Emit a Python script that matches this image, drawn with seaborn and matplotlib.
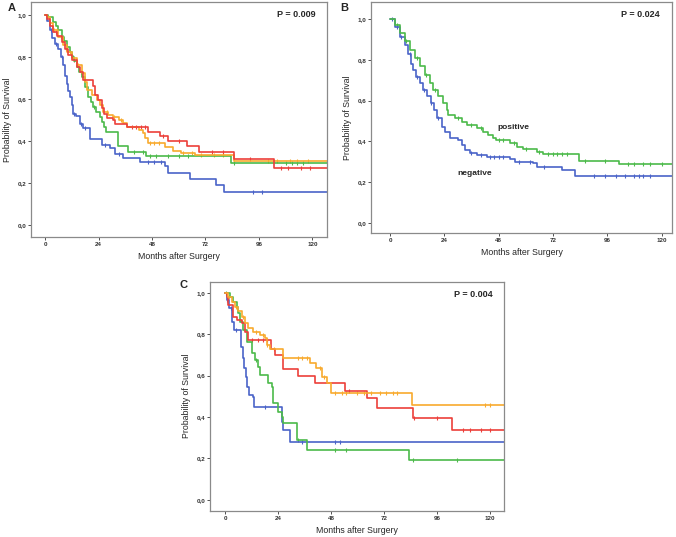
import numpy as np
import pandas as pd
import seaborn as sns
import matplotlib.pyplot as plt

# ---- data ----
# panel A: four groups
a_blue_t = [0, 1, 2, 3, 4.5, 6, 7, 8, 9, 9.7, 10.5, 11.2, 12, 12.7, 14, 15.7, 17.2, 20.2, 25.4, 29.2, 31.4, 35.2, 42.6, 53.9, 55.4, 65, 76.7, 80.3]
a_blue_s = [1.0, 0.97, 0.93, 0.89, 0.86, 0.84, 0.80, 0.76, 0.71, 0.67, 0.64, 0.61, 0.57, 0.53, 0.52, 0.48, 0.46, 0.41, 0.38, 0.365, 0.34, 0.32, 0.30, 0.28, 0.25, 0.22, 0.19, 0.155]
a_blue_c = [2.5, 5, 7.5, 13, 16, 18, 27, 33, 46, 49, 52, 93.5, 97.3]

a_green_t = [0, 1.5, 3.7, 5, 6, 7.5, 8.5, 9.7, 11, 12, 13, 14.2, 15.3, 16.5, 18, 19.4, 20.5, 21.7, 23, 24.7, 25.5, 26.5, 27.4, 32.9, 37.4, 45.2, 83.3]
a_green_s = [1.0, 0.99, 0.968, 0.95, 0.93, 0.897, 0.875, 0.85, 0.825, 0.80, 0.78, 0.754, 0.73, 0.706, 0.659, 0.611, 0.585, 0.563, 0.54, 0.516, 0.49, 0.465, 0.444, 0.378, 0.349, 0.33, 0.297]
a_green_c = [8, 12.5, 22, 40, 44, 47, 50, 55, 60, 64, 85, 108, 111, 113, 116]

a_red_t = [0, 0.75, 2.2, 3.7, 5.2, 7.5, 9, 10.5, 12, 14.2, 15.7, 17.2, 21.7, 22.4, 23.9, 25.4, 26.5, 27.7, 30.7, 31.4, 37, 46.4, 51.6, 55.4, 63.6, 69.3, 84.8, 102.9]
a_red_s = [1.0, 0.98, 0.95, 0.92, 0.90, 0.87, 0.84, 0.81, 0.786, 0.754, 0.73, 0.69, 0.66, 0.62, 0.595, 0.555, 0.53, 0.51, 0.50, 0.48, 0.465, 0.444, 0.424, 0.402, 0.378, 0.348, 0.312, 0.27]
a_red_c = [5, 9.5, 13, 16, 39, 41, 43, 45, 53, 60, 75, 80, 92, 106, 109, 115, 119]

a_orange_t = [0, 1, 2.2, 3.7, 6, 8.2, 9.7, 12, 14.2, 16.5, 18, 19, 21, 23.2, 24.7, 26.2, 28.4, 30.7, 33, 35.2, 36.7, 42, 44, 45, 46.4, 54, 57.6, 61, 67.3, 84.8]
a_orange_s = [1.0, 0.99, 0.96, 0.93, 0.897, 0.857, 0.825, 0.794, 0.762, 0.722, 0.683, 0.643, 0.62, 0.595, 0.571, 0.54, 0.524, 0.516, 0.50, 0.484, 0.468, 0.452, 0.437, 0.413, 0.389, 0.373, 0.354, 0.341, 0.333, 0.305]
a_orange_c = [4, 7, 11, 15, 28, 31, 34, 47, 49, 51, 62, 66, 70, 76, 80, 100, 104, 110, 113, 118]

# panel B: positive / negative
b_pos_t = [0, 2.2, 4.4, 6.6, 8.8, 11, 13.3, 15.5, 17.7, 19.1, 21.3, 23.6, 25, 25.7, 28.7, 31.6, 33.9, 38.3, 41.2, 43.4, 45.6, 47, 52.9, 56, 58.9, 64.8, 67.7, 83.6, 101.3]
b_pos_s = [1.0, 0.97, 0.93, 0.89, 0.85, 0.81, 0.77, 0.725, 0.685, 0.652, 0.62, 0.587, 0.554, 0.53, 0.513, 0.497, 0.48, 0.464, 0.448, 0.431, 0.415, 0.407, 0.39, 0.374, 0.363, 0.35, 0.338, 0.306, 0.289]
b_pos_c = [3, 7, 12, 16, 20, 30, 36, 40, 48, 50, 55, 60, 66, 70, 72, 74, 76, 78, 86, 95, 105, 108, 112, 115, 120]

b_neg_t = [0, 2.2, 4.4, 6.6, 8.1, 9.1, 10, 11.5, 13.3, 14.7, 16.5, 17.9, 19.4, 20.9, 22.8, 24.3, 26.5, 30.2, 31.7, 33.1, 35.3, 38.3, 42.7, 53, 55.2, 63.3, 64.8, 75.8, 81.7]
b_neg_s = [1.0, 0.96, 0.913, 0.87, 0.83, 0.78, 0.75, 0.717, 0.685, 0.652, 0.62, 0.587, 0.554, 0.513, 0.472, 0.448, 0.415, 0.407, 0.382, 0.358, 0.345, 0.333, 0.322, 0.312, 0.297, 0.292, 0.276, 0.26, 0.23]
b_neg_c = [1, 3, 5, 9, 12, 15, 18, 21, 36, 40, 44, 46, 48, 50, 57, 62, 68, 90, 95, 100, 104, 108, 110, 112, 115]

# panel C: four groups
c_orange_t = [0, 1.5, 3, 4.5, 6, 7.5, 9, 10.6, 12.8, 15.8, 18, 18.9, 20.4, 26.4, 38.3, 41, 44, 46, 47.9, 84.5]
c_orange_s = [1.0, 0.98, 0.956, 0.93, 0.91, 0.885, 0.852, 0.828, 0.812, 0.796, 0.78, 0.748, 0.73, 0.683, 0.66, 0.635, 0.595, 0.563, 0.515, 0.46]
c_orange_c = [2, 5, 8, 14, 17, 19, 22, 33, 35, 37, 43, 45, 50, 53, 55, 60, 63, 66, 70, 73, 76, 78, 118, 120]

c_red_t = [0, 0.75, 1.5, 3.8, 5.3, 7.5, 9, 10.6, 21, 22.6, 26.1, 33.2, 40.8, 54.3, 64.2, 68.7, 85, 103]
c_red_s = [1.0, 0.98, 0.94, 0.885, 0.87, 0.852, 0.812, 0.772, 0.73, 0.70, 0.63, 0.598, 0.563, 0.527, 0.49, 0.442, 0.394, 0.338]
c_red_c = [12, 15, 17, 19, 56, 85.5, 96, 108, 111, 116, 120]

c_green_t = [0, 2.3, 3.8, 5.3, 6, 6.8, 8.3, 10.1, 12, 13.6, 15.1, 15.8, 19.6, 21.1, 21.9, 24.2, 25.7, 26.4, 32.5, 37, 83.5]
c_green_s = [1.0, 0.98, 0.955, 0.93, 0.90, 0.86, 0.82, 0.764, 0.708, 0.675, 0.643, 0.603, 0.563, 0.547, 0.466, 0.426, 0.402, 0.37, 0.289, 0.241, 0.193]
c_green_c = [0.5, 14, 33, 50, 55, 85, 105]

c_blue_t = [0, 0.75, 2, 3, 4, 7.2, 8, 8.6, 9.5, 10.1, 11, 12.5, 13.1, 25.7, 26.4, 29.4]
c_blue_s = [1.0, 0.965, 0.925, 0.86, 0.82, 0.74, 0.683, 0.635, 0.595, 0.547, 0.506, 0.498, 0.45, 0.378, 0.338, 0.281]
c_blue_c = [1, 2.5, 5, 18, 35, 50, 52]

p_values = ["P = 0.009", "P = 0.024", "P = 0.004"]
panel_letters = ["A", "B", "C"]
x_ticks = [0, 24, 48, 72, 96, 120]
y_ticks = [0.0, 0.2, 0.4, 0.6, 0.8, 1.0]
y_ticklabels = ["0,0", "0,2", "0,4", "0,6", "0,8", "1,0"]

BLUE = "#4a63c8"
GREEN = "#4cba4a"
RED = "#ec3f3a"
ORANGE = "#f8aa2e"

sns.set_style("white")
plt.rcParams['font.family'] = ['Liberation Sans', 'DejaVu Sans']


def km_curve(ax, t, s, cens, color, xmax):
    df = pd.DataFrame({"t": list(t) + [xmax], "s": list(s) + [s[-1]]})
    sns.lineplot(data=df, x="t", y="s", drawstyle="steps-post", color=color,
                 lw=1.2, estimator=None, sort=False, ax=ax)
    idx = np.searchsorted(np.array(t), np.array(cens), side="right") - 1
    cdf = pd.DataFrame({"t": cens, "s": np.array(s)[idx]})
    sns.scatterplot(data=cdf, x="t", y="s", marker="|", color=color, s=12,
                    linewidth=0.8, ax=ax)


def style_axes(ax, xlim, ylim, pval):
    ax.set_xlim(*xlim)
    ax.set_ylim(*ylim)
    ax.set_xticks(x_ticks)
    ax.set_yticks(y_ticks)
    ax.set_yticklabels(y_ticklabels)
    ax.tick_params(axis="both", labelsize=4.5, length=2, width=0.6, pad=1.5,
                   bottom=True, left=True, colors="#333333")
    for lab in ax.get_xticklabels() + ax.get_yticklabels():
        lab.set_fontweight("bold")
    for sp in ax.spines.values():
        sp.set_color("#8a8a8a")
        sp.set_linewidth(0.9)
    ax.set_xlabel("Months after Surgery", fontsize=6.3, labelpad=4)
    ax.set_ylabel("Probability of Survival", fontsize=6.3, labelpad=4)
    ax.text(0.96, 0.965, pval, transform=ax.transAxes, ha="right", va="top",
            fontsize=6.5, fontweight="bold")


fig = plt.figure(figsize=(6.76, 5.37), dpi=100)
ax_a = fig.add_axes([0.0459, 0.5587, 0.4379, 0.4376])
ax_b = fig.add_axes([0.5488, 0.5661, 0.4453, 0.4302])
ax_c = fig.add_axes([0.3107, 0.0490, 0.4349, 0.4264])

xa = (-6.3, 126.6)
km_curve(ax_a, a_blue_t, a_blue_s, a_blue_c, BLUE, xa[1])
km_curve(ax_a, a_green_t, a_green_s, a_green_c, GREEN, xa[1])
km_curve(ax_a, a_orange_t, a_orange_s, a_orange_c, ORANGE, xa[1])
km_curve(ax_a, a_red_t, a_red_s, a_red_c, RED, xa[1])
style_axes(ax_a, xa, (-0.057, 1.062), p_values[0])

xb = (-8.4, 124.6)
km_curve(ax_b, b_neg_t, b_neg_s, b_neg_c, BLUE, xb[1])
km_curve(ax_b, b_pos_t, b_pos_s, b_pos_c, GREEN, xb[1])
style_axes(ax_b, xb, (-0.049, 1.083), p_values[1])
ax_b.text(54.5, 0.47, "positive", fontsize=6, fontweight="bold", ha="center", va="center")
ax_b.text(37.5, 0.245, "negative", fontsize=6, fontweight="bold", ha="center", va="center")

xc = (-6.8, 126.4)
km_curve(ax_c, c_blue_t, c_blue_s, c_blue_c, BLUE, xc[1])
km_curve(ax_c, c_green_t, c_green_s, c_green_c, GREEN, xc[1])
km_curve(ax_c, c_red_t, c_red_s, c_red_c, RED, xc[1])
km_curve(ax_c, c_orange_t, c_orange_s, c_orange_c, ORANGE, xc[1])
style_axes(ax_c, xc, (-0.052, 1.053), p_values[2])

fig.text(12 / 676, 1 - 8 / 537, panel_letters[0], fontsize=8, fontweight="bold", ha="center", va="center")
fig.text(344 / 676, 1 - 8 / 537, panel_letters[1], fontsize=8, fontweight="bold", ha="center", va="center")
fig.text(184 / 676, 1 - 285 / 537, panel_letters[2], fontsize=8, fontweight="bold", ha="center", va="center")

fig.savefig("out.png", dpi=100)
